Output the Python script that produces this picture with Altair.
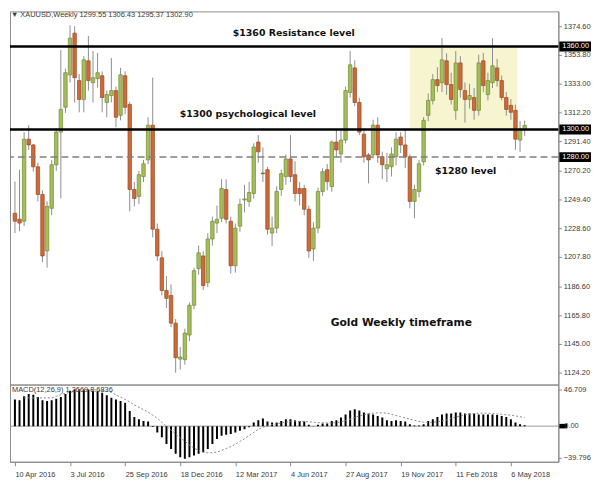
import altair as alt
import pandas as pd

# ---------------- data (weekly XAUUSD candles) ----------------
first_week = "2016-04-10"
opens = [1239.4, 1235.1, 1233.7, 1293.0, 1288.8, 1273.0, 1253.0, 1212.2, 1243.0, 1274.5,
         1298.1, 1316.0, 1339.5, 1369.6, 1335.3, 1321.7, 1349.6, 1333.8, 1336.7, 1338.8,
         1319.5, 1324.5, 1328.1, 1310.2, 1338.8, 1318.1, 1256.6, 1251.6, 1265.9, 1278.0,
         1303.1, 1227.9, 1207.2, 1183.6, 1180.0, 1160.0, 1134.0, 1133.6, 1151.4, 1172.9,
         1199.4, 1208.6, 1189.3, 1220.8, 1232.3, 1235.8, 1256.6, 1233.7, 1201.5, 1230.1,
         1249.0, 1248.0, 1253.7, 1290.9, 1268.5, 1270.9, 1225.1, 1228.7, 1256.6, 1265.9,
         1278.7, 1267.3, 1257.3, 1257.3, 1242.3, 1213.6, 1228.7, 1255.2, 1270.9, 1258.7,
         1290.9, 1282.3, 1292.3, 1326.7, 1344.5, 1319.5, 1296.6, 1281.6, 1281.6, 1303.1,
         1280.2, 1271.6, 1273.0, 1280.2, 1294.5, 1288.8, 1280.2, 1248.0, 1255.2, 1276.6,
         1310.2, 1321.0, 1336.0, 1333.8, 1349.6, 1332.4, 1313.8, 1348.1, 1328.1, 1321.7,
         1323.1, 1313.8, 1349.6, 1325.2, 1333.8, 1344.5, 1335.3, 1323.1, 1317.4, 1313.8,
         1292.3, 1299.55]
highs = [1262.3, 1270.9, 1298.1, 1303.1, 1289.5, 1276.0, 1256.0, 1248.0, 1278.0, 1301.0,
         1357.4, 1344.0, 1375.3, 1374.6, 1340.0, 1353.0, 1367.5, 1356.7, 1355.3, 1342.0,
         1328.0, 1351.7, 1331.0, 1344.5, 1342.0, 1320.0, 1262.0, 1270.0, 1278.0, 1308.8,
         1337.4, 1232.0, 1212.0, 1194.0, 1188.0, 1163.0, 1142.8, 1156.0, 1175.0, 1200.0,
         1216.0, 1212.0, 1225.0, 1237.0, 1245.0, 1264.0, 1264.0, 1237.0, 1232.0, 1250.0,
         1260.0, 1262.0, 1290.0, 1295.9, 1287.0, 1273.0, 1237.0, 1259.0, 1271.0, 1282.0,
         1295.9, 1277.0, 1262.0, 1260.0, 1245.0, 1233.0, 1258.0, 1272.0, 1275.0, 1292.0,
         1300.0, 1299.0, 1331.0, 1356.7, 1350.0, 1323.0, 1300.0, 1283.0, 1307.0, 1308.8,
         1284.0, 1283.0, 1287.0, 1298.0, 1298.0, 1300.0, 1282.0, 1260.0, 1278.0, 1309.0,
         1326.0, 1340.0, 1345.0, 1366.0, 1355.0, 1341.0, 1356.7, 1353.0, 1334.0, 1333.0,
         1330.0, 1354.0, 1355.3, 1341.0, 1366.0, 1351.0, 1339.0, 1327.0, 1322.0, 1318.0,
         1306.0, 1306.43]
lows = [1225.1, 1226.5, 1230.1, 1285.2, 1269.5, 1248.0, 1204.0, 1200.1, 1238.0, 1270.0,
        1250.1, 1312.0, 1334.0, 1319.5, 1312.4, 1312.4, 1328.0, 1319.5, 1330.2, 1312.4,
        1308.8, 1319.5, 1301.6, 1306.6, 1311.0, 1240.8, 1244.4, 1246.0, 1262.0, 1275.0,
        1222.0, 1205.0, 1180.0, 1171.0, 1157.0, 1124.2, 1126.4, 1130.0, 1147.0, 1170.0,
        1195.0, 1184.0, 1186.0, 1216.0, 1225.0, 1233.0, 1232.0, 1195.8, 1196.5, 1226.0,
        1240.0, 1244.0, 1250.0, 1276.0, 1262.0, 1224.0, 1215.8, 1225.0, 1252.0, 1260.0,
        1262.0, 1248.0, 1245.0, 1238.0, 1207.2, 1205.0, 1225.0, 1252.0, 1256.0, 1255.0,
        1280.0, 1276.0, 1290.0, 1323.0, 1317.0, 1296.0, 1276.0, 1261.0, 1279.0, 1276.0,
        1264.0, 1262.0, 1266.0, 1274.0, 1283.0, 1272.0, 1243.0, 1235.8, 1251.0, 1274.0,
        1306.0, 1318.0, 1327.0, 1327.0, 1325.0, 1318.0, 1307.0, 1323.0, 1305.0, 1315.0,
        1307.0, 1310.0, 1327.0, 1321.0, 1330.0, 1331.0, 1321.0, 1310.0, 1307.0, 1285.2,
        1283.8, 1295.37]
closes = [1233.7, 1232.3, 1293.0, 1288.8, 1273.0, 1253.0, 1208.6, 1244.4, 1274.5, 1298.1,
          1314.5, 1341.0, 1366.0, 1337.4, 1321.7, 1350.3, 1335.3, 1337.4, 1341.0, 1323.1,
          1325.2, 1328.1, 1308.8, 1339.5, 1316.0, 1256.6, 1250.1, 1267.3, 1275.2, 1303.1,
          1227.9, 1208.6, 1183.6, 1177.9, 1160.0, 1135.0, 1135.5, 1152.8, 1172.9, 1197.9,
          1210.8, 1187.2, 1220.8, 1233.7, 1235.1, 1257.3, 1235.1, 1201.5, 1228.7, 1245.8,
          1249.8, 1254.4, 1287.3, 1283.8, 1268.0, 1227.9, 1228.7, 1255.2, 1268.0, 1278.7,
          1265.9, 1253.7, 1253.7, 1242.3, 1212.2, 1228.7, 1255.2, 1269.5, 1262.3, 1290.9,
          1285.2, 1292.3, 1328.1, 1346.7, 1319.5, 1298.1, 1280.2, 1278.0, 1303.1, 1281.6,
          1274.5, 1274.5, 1282.3, 1293.0, 1288.8, 1280.2, 1248.0, 1256.6, 1275.2, 1306.6,
          1321.0, 1336.0, 1331.7, 1350.3, 1332.4, 1321.7, 1348.1, 1328.8, 1321.7, 1324.5,
          1313.8, 1348.1, 1331.7, 1335.3, 1346.0, 1335.3, 1323.1, 1314.5, 1312.4, 1293.0,
          1300.2, 1302.90]

# MACD(12,26,9): main (histogram) and signal (dotted)
macd_main = [34, 33, 38, 41, 40, 37, 33, 32, 33, 35,
             37, 41, 45, 46.7, 46.7, 46.7, 46.7, 45, 44.6, 42.5,
             39.5, 36.2, 34, 32, 29.9, 19.3, 11.7, 8.8, 6.7, 5.9,
             -1, -8, -14.3, -22.7, -29, -35.3, -39.5, -41.6, -39.5, -37.5,
             -35.3, -33.2, -29, -22.7, -16.4, -12.2, -11, -10, -8, -5.9,
             -3.8, -1.3, 4.6, 7.6, 9.7, 5.9, 4.6, 4.6, 6.7, 8.8,
             8.8, 7.6, 6.7, 5.9, 1.7, 0.3, 1.7, 3.3, 3.3, 6.7,
             7.6, 11, 15, 20, 21.5, 20, 17.3, 16, 15, 13,
             11, 7.6, 6.7, 7.6, 6.7, 5.9, 2.5, 0.8, 0.8, 2.5,
             6.7, 8.8, 11.7, 15, 16, 16, 17.3, 17.3, 16, 16,
             16, 15, 15, 15, 15, 14.3, 13, 11.7, 8.8, 4.6,
             2.5, 1.3]
macd_signal = [None, None, 36, 36, 36, 36, 36, 36, 36, 38,
               40, 42, 43, 44, 45, 46, 46.5, 46.5, 46, 45.5,
               44.6, 43, 40, 37, 34, 31, 27, 24, 21, 18,
               14, 10, 5, 0, -5, -10, -15, -19, -24, -28,
               -31, -33, -34, -34, -33, -31, -28.5, -26, -23, -19.5,
               -16, -12, -8, -4, -1.5, 0.5, 2, 3, 4, 5,
               6, 6.5, 6, 6, 5.5, 5, 4.5, 4.5, 4, 4,
               4.5, 5.5, 7, 9, 11, 13, 14.5, 15.5, 16.5, 17,
               17, 16.5, 15, 13.5, 12, 10.5, 9, 7.5, 6, 5,
               4.5, 5, 5.5, 6.5, 8, 10, 11.5, 13, 14.5, 15.5,
               16, 16.5, 16.5, 16.5, 16, 15.5, 15, 14.5, 14, 13,
               12, 11]

price_ticks = [1374.60, 1353.80, 1333.00, 1312.20, 1291.40, 1270.20, 1249.40,
               1228.60, 1207.80, 1186.60, 1165.80, 1145.00, 1124.20]
macd_ticks = [46.709, 0.0, -39.796]
date_ticks = ["2016-04-10", "2016-07-03", "2016-09-25", "2016-12-18", "2017-03-12",
              "2017-06-04", "2017-08-27", "2017-11-19", "2018-02-11", "2018-05-06"]

key_levels = [1360.0, 1300.0]
minor_levels = [1280.0]
level_tags = [1360.0, 1300.0, 1280.0]
zone_dates = ["2017-12-03", "2018-05-16"]
zone_prices = [1300.0, 1360.0]

note_texts = ["$1360 Resistance level", "$1300 psychological level", "$1280 level"]
note_dates = ["2017-06-09", "2017-03-31", "2018-02-26"]
note_prices = [1369.6, 1310.9, 1270.2]
big_text = "Gold Weekly timeframe"
big_date = "2017-11-20"
big_price = 1160.0

header = "\u25bc XAUUSD,Weekly  1299.55 1306.43 1295.37 1302.90"
macd_header = "MACD(12,26,9) 1.2669 8.6836"

# ---------------- tables ----------------
t0 = pd.Timestamp(first_week)
dates = pd.date_range(t0, periods=len(opens), freq="7D")
df = pd.DataFrame({"date": dates, "open": opens, "high": highs, "low": lows,
                   "close": closes, "macd": macd_main, "signal": macd_signal})
df["dir"] = ["up" if c >= o else "down" for o, c in zip(opens, closes)]

t_end = t0 + pd.Timedelta(days=7 * 117.26)


def dt(ts):
    ts = pd.Timestamp(ts)
    return alt.DateTime(year=ts.year, month=ts.month, date=ts.day,
                        hours=ts.hour, minutes=ts.minute)


W = 554
H_MAIN = 377
H_MACD = 78
FONT = "Liberation Sans"
LBL = "#3a3a3a"

x_scale = alt.Scale(domain=[dt(t0), dt(t_end)])
y_scale = alt.Scale(domain=[1115.6, 1385.33], zero=False, nice=False)
m_scale = alt.Scale(domain=[-45.4, 53.0], zero=False, nice=False)

y_axis = alt.Axis(orient="right", values=price_ticks, format=".2f", title=None,
                  grid=False, labelFont=FONT, labelFontSize=7.5, labelColor=LBL,
                  tickSize=3, tickColor="#888", domainColor="#888", labelPadding=2)

X = lambda f: alt.X(f, type="temporal", scale=x_scale, axis=None, title=None)
Y = lambda f: alt.Y(f, type="quantitative", scale=y_scale, axis=y_axis, title=None)

zone_df = pd.DataFrame({"start": [pd.Timestamp(zone_dates[0])], "end": [pd.Timestamp(zone_dates[1])],
                        "lo": [zone_prices[0]], "hi": [zone_prices[1]]})
zone = alt.Chart(zone_df).mark_rect(color="#f7f5d0", clip=True).encode(
    x=X("start"), x2="end:T", y=Y("lo"), y2="hi:Q")

key_rule = alt.Chart(pd.DataFrame({"lvl": key_levels})).mark_rule(
    color="#000000", strokeWidth=2.6).encode(y=Y("lvl"))
minor_rule = alt.Chart(pd.DataFrame({"lvl": minor_levels})).mark_rule(
    color="#808080", strokeWidth=1.5, strokeDash=[7, 4]).encode(y=Y("lvl"))

wicks = alt.Chart(df).mark_rule(color="#8e8e8e", strokeWidth=1, clip=True).encode(
    x=X("date"), y=Y("low"), y2="high:Q")

dir_color = alt.Color("dir:N", scale=alt.Scale(domain=["up", "down"], range=["#a6bd5e", "#cc6a3a"]),
                      legend=None)
dir_stroke = alt.Stroke("dir:N", scale=alt.Scale(domain=["up", "down"], range=["#6f8a30", "#99481f"]),
                        legend=None)
bodies = alt.Chart(df).mark_bar(size=3.5, strokeWidth=0.7, clip=True).encode(
    x=X("date"), y=Y("open"), y2="close:Q", color=dir_color, stroke=dir_stroke)

notes_df = pd.DataFrame({"d": pd.to_datetime(note_dates), "p": note_prices, "t": note_texts})
notes = alt.Chart(notes_df).mark_text(font="DejaVu Sans", fontWeight="bold", fontSize=9.5,
                                      color="#111111", align="center", baseline="middle").encode(
    x=X("d"), y=Y("p"), text="t:N")
big_df = pd.DataFrame({"d": [pd.Timestamp(big_date)], "p": [big_price], "t": [big_text]})
big = alt.Chart(big_df).mark_text(font="DejaVu Sans", fontWeight="bold", fontSize=10.8,
                                  color="#111111", align="center", baseline="middle").encode(
    x=X("d"), y=Y("p"), text="t:N")

tag_df = pd.DataFrame({"p": level_tags, "lo": [v - 3.6 for v in level_tags],
                       "hi": [v + 3.6 for v in level_tags],
                       "t": [f"{v:.2f}" for v in level_tags]})
tag_box = alt.Chart(tag_df).mark_rect(color="#000000").encode(
    x=alt.value(W + 1), x2=alt.value(W + 33), y=Y("lo"), y2="hi:Q")
tag_txt = alt.Chart(tag_df).mark_text(font=FONT, fontSize=7.5, color="#ffffff", align="left",
                                      baseline="middle").encode(
    x=alt.value(W + 4), y=Y("p"), text="t:N")

head = alt.Chart(pd.DataFrame({"t": [header]})).mark_text(
    font=FONT, fontSize=7.5, color=LBL, align="left", baseline="middle").encode(
    x=alt.value(1), y=alt.value(4), text="t:N")

main = alt.layer(zone, wicks, bodies, key_rule, minor_rule, notes, big, tag_box, tag_txt, head
                 ).properties(width=W, height=H_MAIN)

# ---------------- MACD panel ----------------
x_axis = alt.Axis(values=[dt(d) for d in date_ticks], format="%-d %b %Y", title=None, grid=False,
                  labelFont=FONT, labelFontSize=7.5, labelColor=LBL, labelAlign="left",
                  labelBaseline="top", labelPadding=5, labelOverlap=False, labelFlush=False,
                  tickSize=4, tickColor="#888", domainColor="#888", labelBound=False)
m_axis = alt.Axis(orient="right", values=macd_ticks, title=None, grid=False,
                  labelExpr="datum.value == 0 ? '' : format(datum.value, '.3f')",
                  labelFont=FONT, labelFontSize=7.5, labelColor=LBL, tickSize=3,
                  tickColor="#888", domainColor="#888", labelPadding=2)
MX = lambda f: alt.X(f, type="temporal", scale=x_scale, axis=x_axis, title=None)
MY = lambda f: alt.Y(f, type="quantitative", scale=m_scale, axis=m_axis, title=None)

zero_df = pd.DataFrame({"z": [0.0], "lo": [-2.9], "hi": [2.9], "t": ["0.00"]})
zero_rule = alt.Chart(zero_df).mark_rule(color="#9a9a9a", strokeWidth=1).encode(y=MY("z"))
hist = alt.Chart(df).mark_bar(size=2, color="#000000", clip=True).encode(x=MX("date"), y=MY("macd"))
sig = alt.Chart(df.dropna(subset=["signal"])).mark_line(
    color="#8a8a8a", strokeWidth=1, strokeDash=[2, 2], clip=True).encode(x=MX("date"), y=MY("signal"))
zero_box = alt.Chart(zero_df).mark_rect(color="#000000").encode(
    x=alt.value(W + 1), x2=alt.value(W + 9), y=MY("lo"), y2="hi:Q")
zero_txt = alt.Chart(zero_df).mark_text(font=FONT, fontSize=7.5, color=LBL, align="left",
                                        baseline="middle").encode(
    x=alt.value(W + 6), y=MY("z"), text="t:N")
mhead = alt.Chart(pd.DataFrame({"t": [macd_header]})).mark_text(
    font=FONT, fontSize=7.5, color=LBL, align="left", baseline="middle").encode(
    x=alt.value(2), y=alt.value(6), text="t:N")

macd_chart = alt.layer(zero_rule, hist, sig, mhead, zero_box, zero_txt).properties(width=W, height=H_MACD)

chart = alt.vconcat(main, macd_chart, spacing=0, bounds="flush").resolve_scale(
    x="independent", y="independent").properties(padding=0, background="#ffffff").configure_view(
    stroke="#8a8a8a", strokeWidth=1)

chart.save("out.html", embed_options={"renderer": "svg", "actions": False})
